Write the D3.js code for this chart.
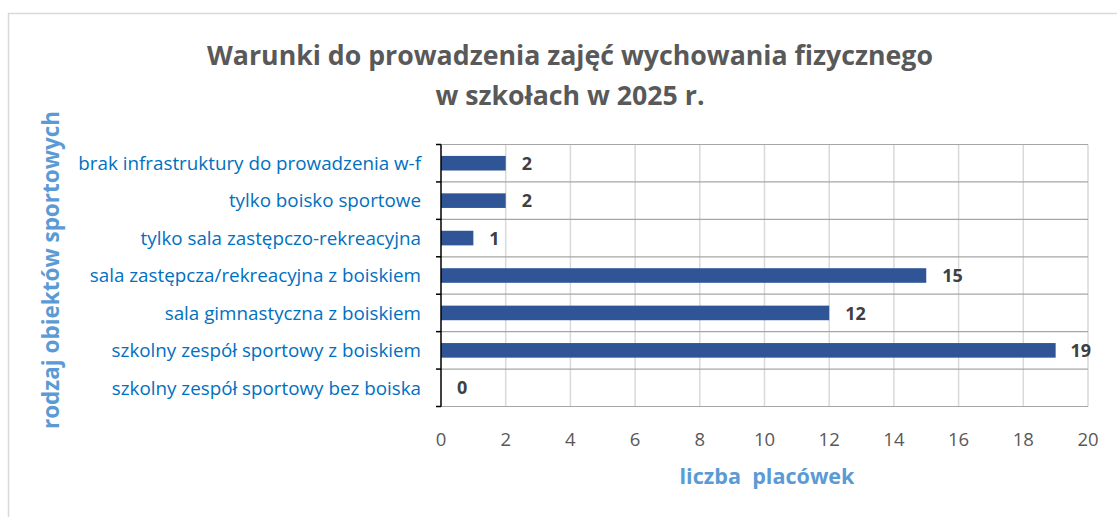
<!DOCTYPE html>
<html><head><meta charset="utf-8">
<script src="https://cdn.jsdelivr.net/npm/d3@7"></script>
<style>body{margin:0;background:#fff;}svg{display:block;font-family:"Open Sans",Lato,sans-serif;}</style>
</head><body>
<svg id="c" width="1117" height="517"></svg>
<script>
const categories = [
  "brak infrastruktury do prowadzenia w-f",
  "tylko boisko sportowe",
  "tylko sala zastępczo-rekreacyjna",
  "sala zastępcza/rekreacyjna z boiskiem",
  "sala gimnastyczna z boiskiem",
  "szkolny zespół sportowy z boiskiem",
  "szkolny zespół sportowy bez boiska"
];
const values = [2, 2, 1, 15, 12, 19, 0];
const xTicks = [0,2,4,6,8,10,12,14,16,18,20];
const titleLines = ["Warunki do prowadzenia zajęć wychowania fizycznego", "w szkołach w 2025 r."];
const xTitle = "liczba  placówek";
const yTitle = "rodzaj obiektów sportowych";

const svg = d3.select("#c");
const L = 441, R = 1088, T = 144.5, B = 406.5;

function fit(sel, target){
  const node = sel.node();
  const fs = parseFloat(sel.attr("font-size"));
  const w = node.getComputedTextLength();
  sel.attr("font-size", (fs*target/w).toFixed(2));
  return fs*target/w;
}

svg.append("rect").attr("x",8.5).attr("y",13.5).attr("width",1200).attr("height",600)
  .attr("fill","#fff").attr("stroke","#d9d9d9").attr("stroke-width",1.5);

const x = d3.scaleLinear().domain([0,20]).range([L,R]);
const y = d3.scaleBand().domain(categories).range([T,B]).paddingInner(0.61).paddingOuter(0.305);
const yb = d3.scaleBand().domain(categories).range([T,B]);

svg.append("g").selectAll("line").data(xTicks.slice(1)).join("line")
  .attr("x1",d=>x(d)).attr("x2",d=>x(d)).attr("y1",T).attr("y2",B)
  .attr("stroke","#d9d9d9").attr("stroke-width",1.5);
const bounds = categories.map(c=>yb(c)).concat([B]);
svg.append("g").selectAll("line").data(bounds).join("line")
  .attr("x1",L).attr("x2",R).attr("y1",d=>d).attr("y2",d=>d)
  .attr("stroke","#a6a6a6").attr("stroke-width",1.2);

svg.append("g").selectAll("rect").data(values).join("rect")
  .attr("x",x(0)).attr("y",(d,i)=>y(categories[i]))
  .attr("width",d=>x(d)-x(0)).attr("height",y.bandwidth())
  .attr("fill","#2f5597");

svg.append("line").attr("x1",L).attr("x2",L).attr("y1",T).attr("y2",B).attr("stroke","#000").attr("stroke-width",1.5);
svg.append("g").selectAll("line").data(bounds).join("line")
  .attr("x1",L-5).attr("x2",L).attr("y1",d=>d).attr("y2",d=>d).attr("stroke","#000").attr("stroke-width",1.5);

const catG = svg.append("g").attr("fill","#0070c0").attr("text-anchor","end");
const probe = catG.append("text").attr("font-size",16).text(categories[0]);
const catFs = fit(probe, 343);
probe.remove();
catG.selectAll("text").data(categories).join("text")
  .attr("x",421).attr("y",d=>yb(d)+yb.bandwidth()/2).attr("dy","0.36em")
  .attr("font-size",catFs).text(d=>d);

const vl = svg.append("g").selectAll("text").data(values).join("text")
  .attr("y",(d,i)=>yb(categories[i])+yb.bandwidth()/2).attr("dy","0.37em")
  .attr("fill","#404040").attr("font-weight","bold").attr("font-size",18).text(d=>d);
vl.attr("x",function(d){ const w=this.getComputedTextLength(); return Math.min(x(d)+16, R+3-w); });

svg.append("g").selectAll("text").data(xTicks).join("text")
  .attr("x",d=>x(d)).attr("y",446).attr("text-anchor","middle")
  .attr("fill","#595959").attr("font-size",18.5).text(d=>d);

const tg = svg.append("g").attr("fill","#595959").attr("font-weight","bold").attr("text-anchor","middle");
const t1 = tg.append("text").attr("x",570).attr("y",65).attr("font-size",26).text(titleLines[0]);
const tfs = fit(t1, 726);
tg.append("text").attr("x",570).attr("y",105).attr("font-size",tfs).text(titleLines[1]);

const xt = svg.append("text").attr("x",767).attr("y",484).attr("text-anchor","middle")
  .attr("fill","#5b9bd5").attr("font-weight","bold").attr("font-size",20).style("white-space","pre").text(xTitle);
fit(xt, 175);

const yt = svg.append("text").attr("transform","translate(59,270) rotate(-90)").attr("text-anchor","middle")
  .attr("fill","#5b9bd5").attr("font-weight","bold").attr("font-size",20).text(yTitle);
fit(yt, 318);
</script>
</body></html>
